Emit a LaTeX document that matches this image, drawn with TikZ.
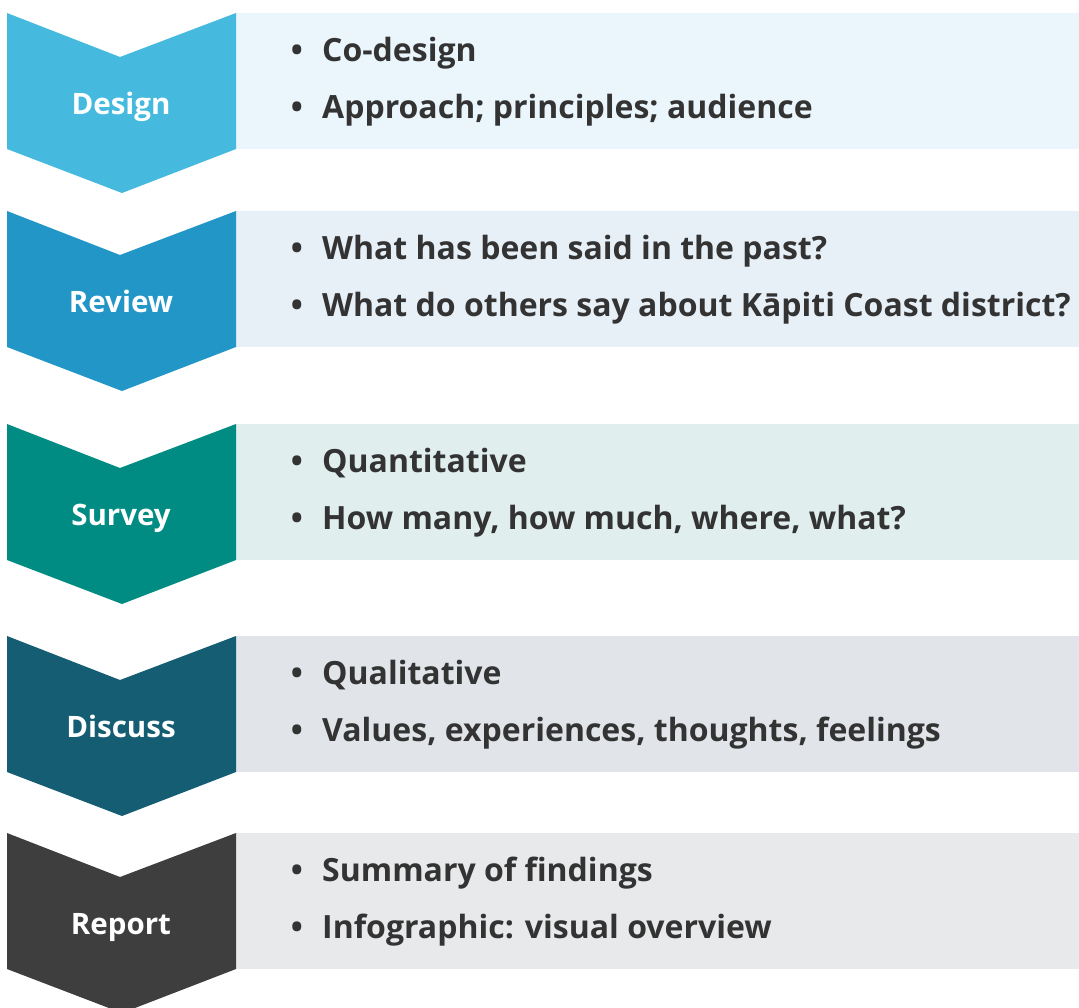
\documentclass[tikz,border=0pt]{standalone}
\usepackage{fontspec}
\setmainfont{Open Sans}
\usepackage{tikz}

\definecolor{design}{HTML}{45B9DE}
\definecolor{bgdesign}{HTML}{EAF6FC}
\definecolor{review}{HTML}{2196C7}
\definecolor{bgreview}{HTML}{E7EFF7}
\definecolor{survey}{HTML}{008C82}
\definecolor{bgsurvey}{HTML}{E1EEEE}
\definecolor{discuss}{HTML}{145D72}
\definecolor{bgdiscuss}{HTML}{E1E5EA}
\definecolor{report}{HTML}{3E3E3E}
\definecolor{bgreport}{HTML}{E8E9EB}
\definecolor{itemgrey}{HTML}{333333}

\tikzset{
  steplabel/.style={anchor=base,inner sep=0pt,text=white,
    font=\fontsize{29.5}{34}\selectfont\bfseries},
  itemtext/.style={anchor=base west,inner sep=0pt,text=itemgrey,
    font=\fontsize{32}{38}\selectfont\bfseries},
  itemdot/.style={itemtext,anchor=base}
}

\begin{document}
\begin{tikzpicture}[x=1pt,y=-1pt]
\useasboundingbox (0,0) rectangle (1079,1007);
\foreach \t/\c/\lab/\a/\b [count=\i] in {
  13/design/Design/{Co-design}/{Approach; principles; audience},
  211/review/Review/{What has been said in the past?}/{What do others say about Kāpiti Coast district?},
  424/survey/Survey/{Quantitative}/{How many, how much, where, what?},
  636/discuss/Discuss/{Qualitative}/{Values, experiences, thoughts, feelings},
  833/report/Report/{Summary of findings}/{Infographic: visual overview}} {
  \fill[bg\c] (236,\t) rectangle (1079,\t+136);
  \fill[\c] (7,\t) -- (120,\t+44) -- (236,\t) -- (236,\t+136)
    -- (122,\t+180) -- (7,\t+136) -- cycle;
  \node[steplabel] (step\i) at (121,\t+101) {\lab};
  \node[itemdot]  (dot\i a)  at (297,\t+48)  {•};
  \node[itemtext] (item\i a) at (322,\t+48)  {\a};
  \node[itemdot]  (dot\i b)  at (297,\t+105) {•};
  \node[itemtext] (item\i b) at (322,\t+105) {\b};
}
\end{tikzpicture}
\end{document}
